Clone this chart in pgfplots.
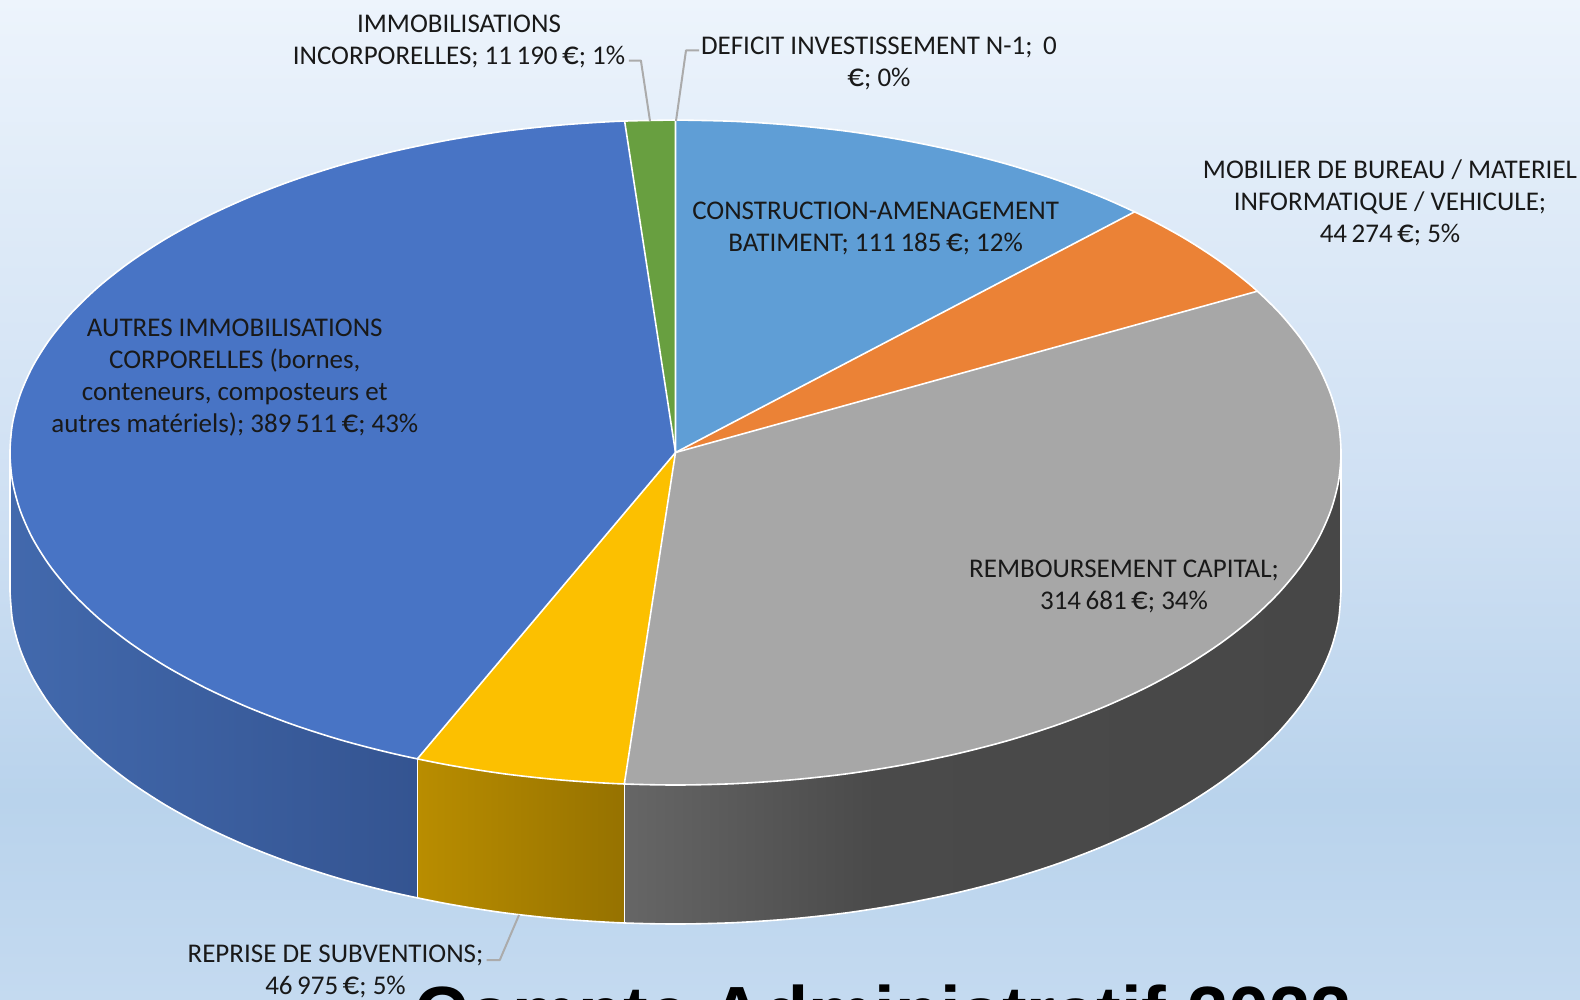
\documentclass[border=0pt]{standalone}
\usepackage{pgfplots}
\pgfplotsset{compat=1.18}
\usepackage{fontspec}
\setmainfont{Carlito}
\newfontfamily\titlefont{Liberation Sans}
\definecolor{bga}{HTML}{C4DAF0}
\definecolor{bgb}{HTML}{B9D3EC}
\definecolor{bgc}{HTML}{CFE0F3}
\definecolor{bgd}{HTML}{DFEBF8}
\definecolor{bge}{HTML}{EDF4FC}
\definecolor{gra}{HTML}{666666}
\definecolor{grb}{HTML}{4A4A4A}
\definecolor{grc}{HTML}{474747}
\definecolor{leader}{HTML}{ABABAB}
\pgfdeclareverticalshading{bgshade}{100bp}{color(0bp)=(bga); color(25bp)=(bga); color(35bp)=(bgb); color(50bp)=(bgc); color(65bp)=(bgd); color(75bp)=(bge); color(100bp)=(bge)}
\pgfdeclarehorizontalshading{grayside}{100bp}{color(0bp)=(gra); color(25bp)=(gra); color(42.5bp)=(grb); color(75bp)=(grc); color(100bp)=(grc)}
\newcommand{\lab}{\fontsize{27}{32}\selectfont}
\newcommand{\eur}{{\fontsize{33}{32}\selectfont €}}
\pgfplotsset{wl/.style={draw=white,line width=1.6pt}}
\begin{document}
\begin{tikzpicture}
\path[use as bounding box] (0,0) rectangle (1580pt,999pt);
\begin{axis}[at={(0,0)},anchor=south west,width=1580pt,height=999pt,scale only axis,
  xmin=0,xmax=1580,ymin=0,ymax=999,y dir=reverse,hide axis,clip=false,no markers,
  every axis plot/.append style={line join=round}]
% background
\addplot[draw=none,shade,shading=bgshade] coordinates {(0,0)(1580,0)(1580,999)(0,999)} -- cycle;
% side walls
\addplot[draw=none,left color={rgb,255:red,66;green,105;blue,173},right color={rgb,255:red,52;green,84;blue,145}] coordinates {
(10.0,452.5)(12.5,481.5)(20.1,510.2)(32.7,538.6)(50.1,566.2)(72.3,593.0)(99.2,618.8)(130.4,643.2)(165.7,666.2)(204.9,687.6)(247.7,707.2)(293.8,724.9)(342.7,740.5)(394.2,753.8)(417.3,758.9)
(417.3,897.9)(394.2,892.8)(342.7,879.5)(293.8,863.9)(247.7,846.2)(204.9,826.6)(165.7,805.2)(130.4,782.2)(99.2,757.8)(72.3,732.0)(50.1,705.2)(32.7,677.6)(20.1,649.2)(12.5,620.5)(10.0,591.5)} -- cycle;
\addplot[draw=none,left color={rgb,255:red,185;green,141;blue,0},right color={rgb,255:red,150;green,114;blue,0}] coordinates {
(417.3,758.9)(447.9,764.9)(503.3,773.7)(559.9,779.9)(617.5,783.7)(624.3,784.0)
(624.3,923.0)(617.5,922.7)(559.9,918.9)(503.3,912.7)(447.9,903.9)(417.3,897.9)} -- cycle;
\addplot[draw=none,shade,shading=grayside] coordinates {
(1341.0,452.5)(1338.5,481.5)(1330.9,510.2)(1318.3,538.6)(1300.9,566.2)(1278.7,593.0)(1251.8,618.8)(1220.6,643.2)(1185.3,666.2)(1146.1,687.6)(1103.3,707.2)(1057.2,724.9)(1008.3,740.5)(956.8,753.8)(903.1,764.9)(847.7,773.7)(791.1,779.9)(733.5,783.7)(675.5,785.0)(624.3,784.0)
(624.3,923.0)(675.5,924.0)(733.5,922.7)(791.1,918.9)(847.7,912.7)(903.1,903.9)(956.8,892.8)(1008.3,879.5)(1057.2,863.9)(1103.3,846.2)(1146.1,826.6)(1185.3,805.2)(1220.6,782.2)(1251.8,757.8)(1278.7,732.0)(1300.9,705.2)(1318.3,677.6)(1330.9,649.2)(1338.5,620.5)(1341.0,591.5)} -- cycle;
% top wedges
\addplot[draw=none,fill={rgb,255:red,95;green,158;blue,214}] coordinates {
(675.5,452.5)(675.5,120.0)(733.5,121.3)(791.1,125.1)(847.7,131.3)(903.1,140.1)(956.8,151.2)(1008.3,164.5)(1057.2,180.1)(1103.3,197.8)(1134.6,211.8)} -- cycle;
\addplot[draw=none,fill={rgb,255:red,235;green,130;blue,54}] coordinates {
(675.5,452.5)(1134.6,211.8)(1146.1,217.4)(1185.3,238.8)(1220.6,261.8)(1251.8,286.2)(1257.4,291.2)} -- cycle;
\addplot[draw=none,fill={rgb,255:red,167;green,167;blue,167}] coordinates {
(675.5,452.5)(1257.4,291.2)(1278.7,312.0)(1300.9,338.8)(1318.3,366.4)(1330.9,394.8)(1338.5,423.5)(1341.0,452.5)(1338.5,481.5)(1330.9,510.2)(1318.3,538.6)(1300.9,566.2)(1278.7,593.0)(1251.8,618.8)(1220.6,643.2)(1185.3,666.2)(1146.1,687.6)(1103.3,707.2)(1057.2,724.9)(1008.3,740.5)(956.8,753.8)(903.1,764.9)(847.7,773.7)(791.1,779.9)(733.5,783.7)(675.5,785.0)(624.3,784.0)} -- cycle;
\addplot[draw=none,fill={rgb,255:red,252;green,192;blue,0}] coordinates {
(675.5,452.5)(624.3,784.0)(617.5,783.7)(559.9,779.9)(503.3,773.7)(447.9,764.9)(417.3,758.9)} -- cycle;
\addplot[draw=none,fill={rgb,255:red,72;green,116;blue,197}] coordinates {
(675.5,452.5)(417.3,758.9)(394.2,753.8)(342.7,740.5)(293.8,724.9)(247.7,707.2)(204.9,687.6)(165.7,666.2)(130.4,643.2)(99.2,618.8)(72.3,593.0)(50.1,566.2)(32.7,538.6)(20.1,510.2)(12.5,481.5)(10.0,452.5)(12.5,423.5)(20.1,394.8)(32.7,366.4)(50.1,338.8)(72.3,312.0)(99.2,286.2)(130.4,261.8)(165.7,238.8)(204.9,217.4)(247.7,197.8)(293.8,180.1)(342.7,164.5)(394.2,151.2)(447.9,140.1)(503.3,131.3)(559.9,125.1)(617.5,121.3)(624.6,121.0)} -- cycle;
\addplot[draw=none,fill={rgb,255:red,104;green,159;blue,64}] coordinates {
(675.5,452.5)(624.6,121.0)(675.5,120.0)} -- cycle;
% white outlines: spokes and wall edges
\addplot[wl] coordinates {(675.5,120.0)(675.5,452.5)(1134.6,211.8)};
\addplot[wl] coordinates {(1257.4,291.2)(675.5,452.5)(624.3,784.0)};
\addplot[wl] coordinates {(417.3,758.9)(675.5,452.5)(624.6,121.0)};
\addplot[wl] coordinates {(417.3,758.9)(417.3,897.9)};
\addplot[wl] coordinates {(624.3,784.0)(624.3,923.0)};
\addplot[wl] coordinates {(10.0,452.5)(10.0,591.5)};
\addplot[wl] coordinates {(1341.0,452.5)(1341.0,591.5)};
% white outlines: top rim and bottom rim
\addplot[wl,smooth] coordinates {(675.5,120.0)(733.5,121.3)(791.1,125.1)(847.7,131.3)(903.1,140.1)(956.8,151.2)(1008.3,164.5)(1057.2,180.1)(1103.3,197.8)(1146.1,217.4)(1185.3,238.8)(1220.6,261.8)(1251.8,286.2)(1278.7,312.0)(1300.9,338.8)(1318.3,366.4)(1330.9,394.8)(1338.5,423.5)(1341.0,452.5)(1338.5,481.5)(1330.9,510.2)(1318.3,538.6)(1300.9,566.2)(1278.7,593.0)(1251.8,618.8)(1220.6,643.2)(1185.3,666.2)(1146.1,687.6)(1103.3,707.2)(1057.2,724.9)(1008.3,740.5)(956.8,753.8)(903.1,764.9)(847.7,773.7)(791.1,779.9)(733.5,783.7)(675.5,785.0)(617.5,783.7)(559.9,779.9)(503.3,773.7)(447.9,764.9)(394.2,753.8)(342.7,740.5)(293.8,724.9)(247.7,707.2)(204.9,687.6)(165.7,666.2)(130.4,643.2)(99.2,618.8)(72.3,593.0)(50.1,566.2)(32.7,538.6)(20.1,510.2)(12.5,481.5)(10.0,452.5)(12.5,423.5)(20.1,394.8)(32.7,366.4)(50.1,338.8)(72.3,312.0)(99.2,286.2)(130.4,261.8)(165.7,238.8)(204.9,217.4)(247.7,197.8)(293.8,180.1)(342.7,164.5)(394.2,151.2)(447.9,140.1)(503.3,131.3)(559.9,125.1)(617.5,121.3)(675.5,120.0)};
\addplot[wl,smooth] coordinates {(1341.0,591.5)(1338.5,620.5)(1330.9,649.2)(1318.3,677.6)(1300.9,705.2)(1278.7,732.0)(1251.8,757.8)(1220.6,782.2)(1185.3,805.2)(1146.1,826.6)(1103.3,846.2)(1057.2,863.9)(1008.3,879.5)(956.8,892.8)(903.1,903.9)(847.7,912.7)(791.1,918.9)(733.5,922.7)(675.5,924.0)(617.5,922.7)(559.9,918.9)(503.3,912.7)(447.9,903.9)(394.2,892.8)(342.7,879.5)(293.8,863.9)(247.7,846.2)(204.9,826.6)(165.7,805.2)(130.4,782.2)(99.2,757.8)(72.3,732.0)(50.1,705.2)(32.7,677.6)(20.1,649.2)(12.5,620.5)(10.0,591.5)};
% leader lines
\addplot[draw=leader,line width=2pt] coordinates {(628.8,60.5)(640.9,60.5)(650,121)};
\addplot[draw=leader,line width=2pt] coordinates {(699,50.4)(686,50.4)(676,121)};
\addplot[draw=leader,line width=2pt] coordinates {(486.7,960)(499.8,960)(519,915)};
% labels
\node[align=center,font=\lab,text=black!90,inner sep=0pt] at (axis cs:459,41) {IMMOBILISATIONS\\INCORPORELLES; 11\,190\,\eur; 1\%};
\node[align=center,font=\lab,text=black!90,inner sep=0pt] at (axis cs:879,63) {DEFICIT INVESTISSEMENT N-1;\, 0\\\eur; 0\%};
\node[align=center,font=\lab,text=black!90,inner sep=0pt] at (axis cs:1390,203) {MOBILIER DE BUREAU / MATERIEL\\INFORMATIQUE / VEHICULE;\\44\,274\,\eur; 5\%};
\node[align=center,font=\lab,text=black!90,inner sep=0pt] at (axis cs:875.6,228) {CONSTRUCTION-AMENAGEMENT\\BATIMENT; 111\,185\,\eur; 12\%};
\node[align=center,font=\lab,text=black!90,inner sep=0pt] at (axis cs:1124,586) {REMBOURSEMENT CAPITAL;\\314\,681\,\eur; 34\%};
\node[align=center,font=\lab,text=black!90,inner sep=0pt] at (axis cs:234.8,377.5) {AUTRES IMMOBILISATIONS\\CORPORELLES (bornes,\\conteneurs, composteurs et\\autres matériels); 389\,511\,\eur; 43\%};
\node[align=center,font=\lab,text=black!90,inner sep=0pt] at (axis cs:335.5,971) {REPRISE DE SUBVENTIONS;\\46\,975\,\eur; 5\%};
% clipped title at bottom edge
\node[overlay,anchor=base west,inner sep=0pt,font={\titlefont\bfseries\fontsize{74}{80}\selectfont},text=black] at (axis cs:414,1038) {Compte Administratif 2022};
\end{axis}
\end{tikzpicture}
\end{document}
